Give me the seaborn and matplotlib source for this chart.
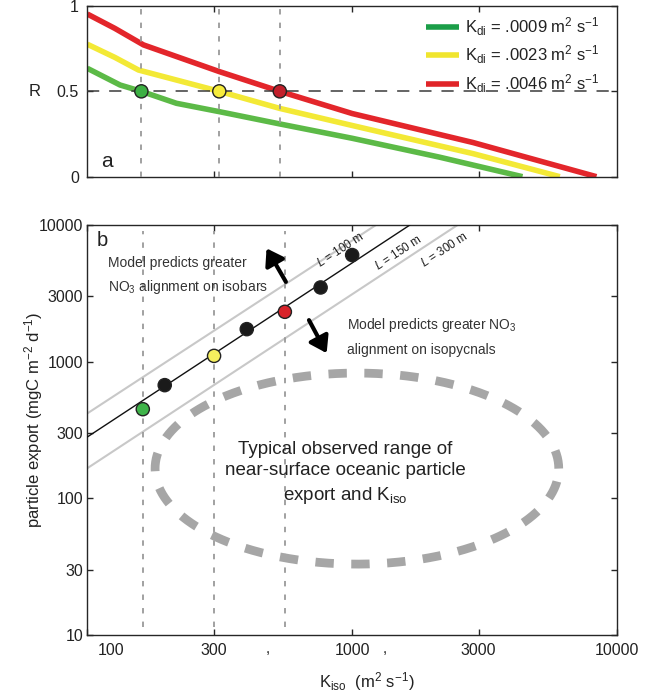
import numpy as np
import pandas as pd
import matplotlib
matplotlib.use("Agg")
import matplotlib.pyplot as plt
import matplotlib.transforms as mtransforms
from matplotlib.lines import Line2D
import seaborn as sns

# ---------------- data ----------------
# Panel a: ratio R against isopycnal diffusivity, one curve per diapycnal diffusivity
kdi_labels = [r"K$_{\mathrm{di}}$ = .0009 m$^2$ s$^{-1}$",
              r"K$_{\mathrm{di}}$ = .0023 m$^2$ s$^{-1}$",
              r"K$_{\mathrm{di}}$ = .0046 m$^2$ s$^{-1}$"]
green_kiso = [100, 133, 160, 217, 315, 533, 1000, 2143, 4395]
green_r = [0.635, 0.537, 0.50, 0.43, 0.381, 0.309, 0.225, 0.114, 0.0]
yellow_kiso = [100, 127, 156, 315, 533, 1000, 2862, 6081]
yellow_r = [0.776, 0.699, 0.625, 0.50, 0.40, 0.30, 0.135, 0.0]
red_kiso = [100, 127, 163, 316, 533, 1000, 2862, 8360]
red_r = [0.953, 0.869, 0.772, 0.615, 0.50, 0.37, 0.20, 0.0]
# isopycnal diffusivity where each curve crosses R = 0.5
r_half_kiso = [160, 315, 533]
r_half = [0.5, 0.5, 0.5]

# Panel b: particle export against isopycnal diffusivity
export_kiso = [162, 196, 301, 400, 557, 760, 1000]
export_flux = [449, 673, 1102, 1729, 2316, 3490, 6025]
export_kind = ["g", "k", "y", "k", "r", "k", "k"]
cross_kiso = [162, 301, 557]
# constant length-scale lines (end points)
l100_kiso, l100_flux = [100, 1230], [418, 10000]
l150_kiso, l150_flux = [100, 1652], [281, 10000]
l300_kiso, l300_flux = [100, 2500], [166, 10000]
length_labels = [r"$L$ = 100 m", r"$L$ = 150 m", r"$L$ = 300 m"]
# observed range: centre and half-widths (decades)
obs_centre = (1042, 165)
obs_halfwidth = (0.762, 0.699)

x_ticks = [100, 300, 1000, 3000, 10000]
x_ticklabels = ["100", "300", "1000", "3000", "10000"]
y_ticks_b = [10, 30, 100, 300, 1000, 3000, 10000]
y_ticklabels_b = ["10", "30", "100", "300", "1000", "3000", "10000"]

# ---------------- style ----------------
sns.set_style("ticks")
plt.rcParams["font.family"] = ["Liberation Sans", "DejaVu Sans"]
plt.rcParams["mathtext.fontset"] = "custom"
plt.rcParams["mathtext.rm"] = "Liberation Sans"
plt.rcParams["mathtext.it"] = "Liberation Sans:italic"
plt.rcParams["mathtext.bf"] = "Liberation Sans:bold"
plt.rcParams["axes.linewidth"] = 1.0
plt.rcParams["xtick.direction"] = "in"
plt.rcParams["ytick.direction"] = "in"

TXT = "#222222"
curve_colors = {"g": "#5cba47", "y": "#f3e936", "r": "#e3262b"}
legend_colors = ["#1b9e48", "#f0e52e", "#e02428"]
top_marker = {"g": "#3cb043", "y": "#f6ec3c", "r": "#c21f2b"}
bot_marker = {"g": "#3fb44a", "y": "#f6ef5e", "r": "#d8232a", "k": "#1a1a1a"}

fig = plt.figure(figsize=(6.54, 6.97), dpi=100)
ax_a = fig.add_axes([0.1335, 0.7465, 0.81, 0.2449])
ax_b = fig.add_axes([0.1335, 0.0890, 0.81, 0.5882])

# ---------------- panel a ----------------
curves = pd.concat([
    pd.DataFrame({"kiso": green_kiso, "R": green_r, "kdi": "g"}),
    pd.DataFrame({"kiso": yellow_kiso, "R": yellow_r, "kdi": "y"}),
    pd.DataFrame({"kiso": red_kiso, "R": red_r, "kdi": "r"}),
])
sns.lineplot(data=curves, x="kiso", y="R", hue="kdi", palette=curve_colors,
             estimator=None, sort=False, lw=4.0, legend=False, ax=ax_a,
             solid_capstyle="butt")
ax_a.set_xscale("log")
ax_a.set_xlim(100, 10000)
ax_a.set_ylim(0, 1)

ax_a.axhline(0.5, color="#3a3a3a", lw=1.1, ls=(0, (8, 6.5)), zorder=3)
for k in r_half_kiso:
    ax_a.axvline(k, color="#9a9a9a", lw=1.3, ls=(0, (3, 4.5)), zorder=3)
half_df = pd.DataFrame({"kiso": r_half_kiso, "R": r_half, "kdi": ["g", "y", "r"]})
sns.scatterplot(data=half_df, x="kiso", y="R", hue="kdi", palette=top_marker,
                s=90, edgecolor="#222222", linewidth=1.0, legend=False,
                ax=ax_a, zorder=5)

ax_a.set_xticks([300, 1000, 3000])
ax_a.set_xticks([], minor=True)
ax_a.set_xticklabels([])
ax_a.set_yticks([0, 0.5, 1])
ax_a.set_yticklabels(["0", "0.5", "1"])
ax_a.tick_params(axis="both", which="both", top=True, right=True, length=4,
                 width=1.0, labelsize=11.5, labelcolor=TXT, pad=6)
ax_a.set_xlabel("")
ax_a.set_ylabel("R", rotation=0, fontsize=12, color=TXT, va="center", ha="center")
ax_a.yaxis.set_label_coords(-0.099, 0.5)
ax_a.text(0.026, 0.035, "a", transform=ax_a.transAxes, fontsize=15, color=TXT,
          ha="left", va="bottom")

handles = [Line2D([], [], color=c, lw=4.0, solid_capstyle="butt") for c in legend_colors]
ax_a.legend(handles, kdi_labels, loc="upper right", bbox_to_anchor=(0.98, 0.985),
            frameon=False, fontsize=12, handlelength=2.0, handletextpad=0.35,
            labelspacing=0.36, borderaxespad=0.0, labelcolor=TXT)

# ---------------- panel b ----------------
ax_b.set_xscale("log")
ax_b.set_yscale("log")
ax_b.set_xlim(100, 10000)
ax_b.set_ylim(10, 10000)

for kx, fy in [(l100_kiso, l100_flux), (l300_kiso, l300_flux)]:
    sns.lineplot(x=kx, y=fy, color="#c8c8c8", lw=1.5, estimator=None, sort=False,
                 ax=ax_b, zorder=2)
sns.lineplot(x=l150_kiso, y=l150_flux, color="#111111", lw=1.0, estimator=None,
             sort=False, ax=ax_b, zorder=3)

ax_b.vlines(cross_kiso, 11.5, 9000, color="#9a9a9a", lw=1.3, ls=(0, (3, 4.5)), zorder=2)

# observed range outline (ellipse in log-log space)
theta = np.linspace(0.0, 2.0 * np.pi, 500)
ex = 10 ** (np.log10(obs_centre[0]) + obs_halfwidth[0] * np.cos(theta))
ey = 10 ** (np.log10(obs_centre[1]) + obs_halfwidth[1] * np.sin(theta))
ax_b.plot(ex, ey, color="#a6a6a6", lw=6.3, ls=(0, (2.1, 2.0)),
          solid_capstyle="butt", dash_capstyle="butt", zorder=4)

pts = pd.DataFrame({"kiso": export_kiso, "flux": export_flux, "kind": export_kind})
sns.scatterplot(data=pts, x="kiso", y="flux", hue="kind", palette=bot_marker,
                s=90, edgecolor="#222222", linewidth=1.0, legend=False, ax=ax_b,
                zorder=6)

# label each length-scale line along its slope
disp = ax_b.transData
def line_angle(kx, fy):
    p0 = disp.transform((kx[0], fy[0]))
    p1 = disp.transform((kx[1], fy[1]))
    return np.degrees(np.arctan2(p1[1] - p0[1], p1[0] - p0[0]))

label_pos = [(900, 6650), (1490, 6250), (2230, 6650)]
for (lx, ly), lab, (kx, fy) in zip(label_pos, length_labels,
                                   [(l100_kiso, l100_flux), (l150_kiso, l150_flux),
                                    (l300_kiso, l300_flux)]):
    ax_b.text(lx, ly, lab, rotation=line_angle(kx, fy), rotation_mode="anchor",
              ha="center", va="center", fontsize=8.5, color=TXT, zorder=7)

arrow_style = dict(arrowstyle="-|>,head_length=0.6,head_width=0.4", lw=3.0,
                   color="black", shrinkA=0, shrinkB=0, mutation_scale=16)
ax_b.annotate("", xy=(475, 6745), xytext=(562, 3837), arrowprops=arrow_style, zorder=7)
ax_b.annotate("", xy=(801, 1154), xytext=(687, 2013), arrowprops=arrow_style, zorder=7)

ax_b.text(120, 5260, "Model predicts greater", fontsize=10, color="#333333",
          ha="left", va="center")
ax_b.text(120, 3508, r"NO$_3$ alignment on isobars", fontsize=10, color="#333333",
          ha="left", va="center")
ax_b.text(954, 1849, r"Model predicts greater NO$_3$", fontsize=10, color="#333333",
          ha="left", va="center")
ax_b.text(954, 1214, "alignment on isopycnals", fontsize=10, color="#333333",
          ha="left", va="center")

ax_b.text(939, 153, "Typical observed range of\nnear-surface oceanic particle\n"
          r"export and K$_{\mathrm{iso}}$", fontsize=13.5, color=TXT, ha="center",
          va="center", linespacing=1.36, zorder=7)

ax_b.text(0.018, 0.985, "b", transform=ax_b.transAxes, fontsize=14.5, color=TXT,
          ha="left", va="top")

ax_b.set_xticks(x_ticks)
ax_b.set_xticklabels(x_ticklabels)
ax_b.set_xticks([], minor=True)
ax_b.set_yticks(y_ticks_b)
ax_b.set_yticklabels(y_ticklabels_b)
ax_b.set_yticks([], minor=True)
ax_b.tick_params(axis="both", which="both", top=True, right=True, length=4,
                 width=1.0, labelsize=11.5, labelcolor=TXT)
ax_b.tick_params(axis="x", pad=6)
ax_b.tick_params(axis="y", pad=3)
first = ax_b.get_xticklabels()[0]
first.set_horizontalalignment("left")
first.set_transform(first.get_transform() +
                    mtransforms.ScaledTranslation(10 / 100, 0, fig.dpi_scale_trans))

ax_b.set_xlabel(r"K$_{\mathrm{iso}}$  (m$^2$ s$^{-1}$)", fontsize=12, color=TXT)
ax_b.xaxis.set_label_coords(0.528, -0.085)
ax_b.set_ylabel(r"particle export (mgC m$^{-2}$ d$^{-1}$)", fontsize=12, color=TXT)
ax_b.yaxis.set_label_coords(-0.08, 0.525)

comma_tf = mtransforms.blended_transform_factory(ax_b.transData, ax_b.transAxes)
for cx in (481, 1328):
    ax_b.text(cx, -0.035, ",", transform=comma_tf, fontsize=11, color=TXT,
              ha="center", va="center")

fig.savefig("out.png", dpi=100)
